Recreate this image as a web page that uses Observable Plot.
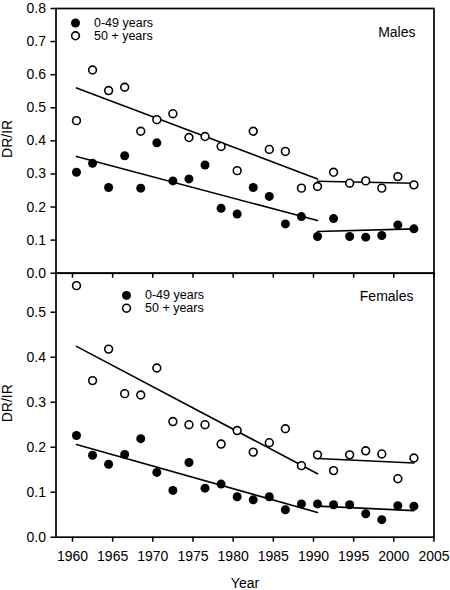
<!DOCTYPE html>
<html><head><meta charset="utf-8">
<script src="https://cdn.jsdelivr.net/npm/d3@7"></script>
<script src="https://cdn.jsdelivr.net/npm/@observablehq/plot@0.6"></script>
<style>
html,body{margin:0;padding:0;background:#fff;overflow:hidden;}
#wrap{position:relative;width:450px;height:590px;}
#wrap svg{position:absolute;left:0;top:0;background:transparent !important;}
</style></head><body><div id="wrap"></div>
<script>
const years = [1960.5,1962.5,1964.5,1966.5,1968.5,1970.5,1972.5,1974.5,1976.5,1978.5,1980.5,1982.5,1984.5,1986.5,1988.5,1990.5,1992.5,1994.5,1996.5,1998.5,2000.5,2002.5];
const malesYoung = [0.305,0.332,0.259,0.355,0.257,0.394,0.279,0.285,0.327,0.196,0.179,0.259,0.232,0.149,0.171,0.111,0.165,0.111,0.109,0.114,0.146,0.134];
const malesOld = [0.461,0.614,0.552,0.562,0.429,0.464,0.482,0.410,0.413,0.383,0.310,0.429,0.374,0.368,0.257,0.262,0.305,0.272,0.279,0.257,0.292,0.267];
const femalesYoung = [0.226,0.182,0.162,0.184,0.219,0.144,0.104,0.166,0.109,0.118,0.090,0.083,0.090,0.061,0.074,0.074,0.072,0.072,0.052,0.039,0.070,0.069];
const femalesOld = [0.559,0.348,0.418,0.319,0.316,0.376,0.257,0.250,0.250,0.207,0.237,0.189,0.210,0.241,0.159,0.183,0.148,0.183,0.192,0.185,0.130,0.176];

// fitted trend segments: years and values at segment ends
const fitYears1 = [1960.5, 1990.5];
const fitYears2 = [1990.5, 2002.5];
const malesYoungFit1 = [0.353, 0.159];
const malesYoungFit2 = [0.126, 0.134];
const malesOldFit1 = [0.560, 0.285];
const malesOldFit2 = [0.278, 0.272];
const femalesYoungFit1 = [0.206, 0.055];
const femalesYoungFit2 = [0.069, 0.059];
const femalesOldFit1 = [0.424, 0.141];
const femalesOldFit2 = [0.175, 0.165];

const xTicks = [1960,1965,1970,1975,1980,1985,1990,1995,2000,2005];
const yTicksMales = [0,0.1,0.2,0.3,0.4,0.5,0.6,0.7,0.8];
const yTicksFemales = [0,0.1,0.2,0.3,0.4,0.5];
const legendLabels = ["0-49 years", "50 + years"];
const panelNames = ["Males", "Females"];
const yLabel = "DR/IR";
const xLabel = "Year";

const font = "'Liberation Sans', Arial, Helvetica, sans-serif";
const rows = arr => years.map((x, i) => ({x, y: arr[i]}));
const segs = (f1, f2) => [
  {x: fitYears1[0], y: f1[0], g: 1}, {x: fitYears1[1], y: f1[1], g: 1},
  {x: fitYears2[0], y: f2[0], g: 2}, {x: fitYears2[1], y: f2[1], g: 2}
];

function panel(o) {
  const gap = 12.8;
  const marks = [
    Plot.axisY({ticks: o.yTicks, tickFormat: d3.format(".1f"), tickSize: 5, tickPadding: 5, stroke: "black", strokeWidth: 1.5, fill: "black", label: null, fontSize: 14}),
    Plot.axisX({ticks: xTicks, tickFormat: o.xLabels ? d3.format("d") : () => "", tickSize: 5, tickPadding: 9, stroke: "black", strokeWidth: 1.5, fill: "black", label: null, fontSize: 14}),
    Plot.frame({stroke: "black", strokeWidth: 1.7}),
    Plot.line(segs(o.youngFit1, o.youngFit2), {x: "x", y: "y", z: "g", stroke: "black", strokeWidth: 1.6}),
    Plot.line(segs(o.oldFit1, o.oldFit2), {x: "x", y: "y", z: "g", stroke: "black", strokeWidth: 1.6}),
    Plot.dot(rows(o.young), {x: "x", y: "y", r: 4.5, fill: "black"}),
    Plot.dot(rows(o.old), {x: "x", y: "y", r: 3.9, fill: "white", stroke: "black", strokeWidth: 1.6}),
    Plot.dot([0], {frameAnchor: "top-left", dx: o.lx, dy: o.ly, r: 4.5, fill: "black"}),
    Plot.dot([0], {frameAnchor: "top-left", dx: o.lx, dy: o.ly + gap, r: 3.9, fill: "white", stroke: "black", strokeWidth: 1.6}),
    Plot.text([legendLabels[0]], {frameAnchor: "top-left", dx: o.lx + 18.5, dy: o.ly, text: d => d, textAnchor: "start", lineAnchor: "middle", fontSize: 12.5, fill: "black"}),
    Plot.text([legendLabels[1]], {frameAnchor: "top-left", dx: o.lx + 18.5, dy: o.ly + gap, text: d => d, textAnchor: "start", lineAnchor: "middle", fontSize: 12.5, fill: "black"}),
    Plot.text([o.name], {frameAnchor: "top-right", dx: o.nx, dy: o.ny, text: d => d, textAnchor: "end", lineAnchor: "middle", fontSize: 14, fill: "black"}),
    Plot.text([yLabel], {frameAnchor: "left", dx: -48, dy: o.yLabDy, text: d => d, rotate: -90, textAnchor: "middle", lineAnchor: "middle", fontSize: 14, fill: "black"})
  ];
  if (o.xLabels) marks.push(Plot.text([xLabel], {frameAnchor: "bottom", dy: 46, text: d => d, lineAnchor: "middle", fontSize: 14, fill: "black"}));
  return Plot.plot({
    width: 450, height: 590,
    marginLeft: 55.5, marginRight: 16.5, marginTop: o.mt, marginBottom: o.mb,
    style: {fontFamily: font, fontSize: "14px", background: "transparent", color: "black"},
    x: {domain: [1957.95, 2005], label: null},
    y: {domain: o.yDomain, label: null},
    marks
  });
}

const wrap = document.getElementById("wrap");
wrap.appendChild(panel({
  yDomain: [0, 0.8], yTicks: yTicksMales, young: malesYoung, old: malesOld,
  youngFit1: malesYoungFit1, youngFit2: malesYoungFit2, oldFit1: malesOldFit1, oldFit2: malesOldFit2,
  name: panelNames[0], mt: 8, mb: 317.3, xLabels: false,
  lx: 19.5, ly: 14.5, nx: -18.5, ny: 24.3, yLabDy: -2
}));
wrap.appendChild(panel({
  yDomain: [0, 0.5867], yTicks: yTicksFemales, young: femalesYoung, old: femalesOld,
  youngFit1: femalesYoungFit1, youngFit2: femalesYoungFit2, oldFit1: femalesOldFit1, oldFit2: femalesOldFit2,
  name: panelNames[1], mt: 272.7, mb: 53.3, xLabels: true,
  lx: 70.5, ly: 22.2, nx: -20.5, ny: 23.3, yLabDy: -2
}));
</script></body></html>
